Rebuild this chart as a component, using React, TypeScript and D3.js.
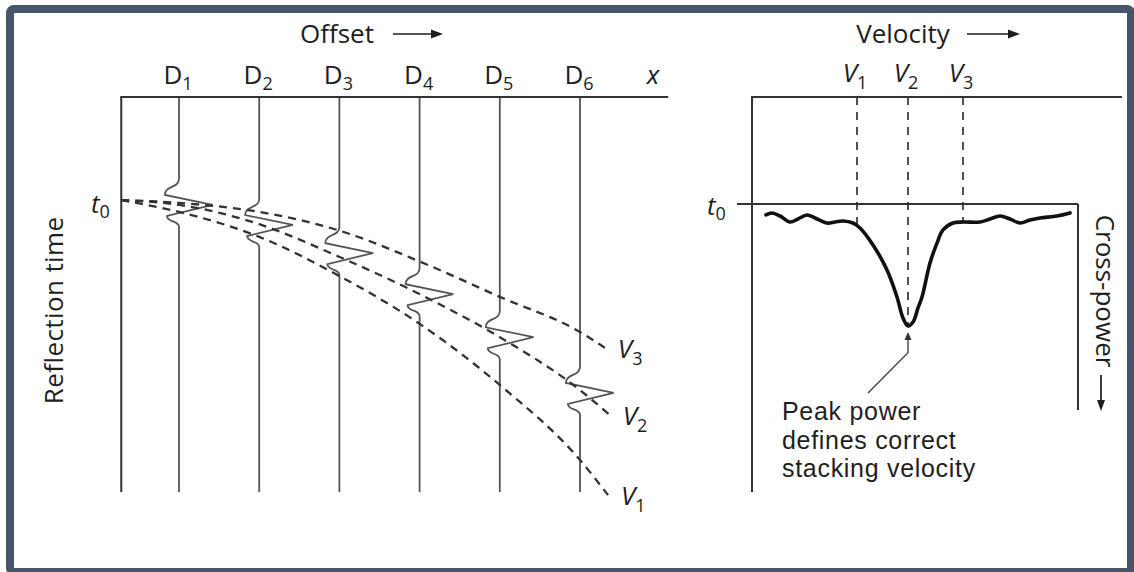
import React from "react";
import * as d3 from "d3";

// ---------- Left panel data (offset units, time in ms) ----------
const traceNames = ["1", "2", "3", "4", "5", "6"];
const traceOffsets = [1, 2, 3, 4, 5, 6];
const arrivalTimes = [273, 324, 395, 499, 608, 749];
const waveletDt = [-66, -25, 0, 28, 56];
const waveletDx = [0, -0.175, 0.42, -0.15, 0];
const t0Time = 261;

const v3Offsets = [0.28, 1, 2, 2.98, 4.02, 5, 6, 6.31];
const v3Times = [261, 268, 291, 337, 418, 506, 595, 635];
const v2Offsets = [0.28, 1, 2, 2.98, 4.02, 5, 6, 6.37];
const v2Times = [261, 273, 322, 403, 501, 608, 742, 805];
const v1Offsets = [0.28, 1, 2, 2.98, 4.02, 5, 6, 6.35];
const v1Times = [261, 291, 354, 451, 577, 729, 919, 1008];
const hyperbolaLabels = ["3", "2", "1"];

// ---------- Right panel data (velocity m/s, cross-power units) ----------
const velocityMarks = [2020, 2224, 2444];
const velocityNames = ["1", "2", "3"];
const cpVelocity = [1656, 1680, 1712, 1752, 1784, 1820, 1852, 1900, 1932, 1964, 2004, 2032, 2084, 2140, 2180, 2204, 2224, 2244, 2264, 2280, 2312, 2340, 2364, 2404, 2444, 2512, 2552, 2592, 2632, 2672, 2712, 2752, 2820, 2872];
const cpPower = [8.7, 7.1, 9.5, 14.3, 11.9, 8.7, 11.1, 15.1, 14.3, 13.5, 15.1, 19, 32.5, 52.4, 73.8, 90.5, 96.8, 93.7, 82.5, 73.8, 46.8, 31, 20.6, 15.1, 14.3, 14.3, 11.9, 9.5, 11.9, 15.1, 12.7, 11.1, 9.5, 7.1];
const annotationLines = ["Peak power", "defines correct", "stacking velocity"];

const FONT = "'Open Sans', 'Noto Sans', sans-serif";
const NOTE_FONT = "'Liberation Sans', Arial, sans-serif";
const TXT = "#1e1e1e";
const FS = 26;
const SUB = 18;

export default function App() {
  const xs = d3.scaleLinear().domain([0, 7]).range([98.8, 660.2]);
  const ts = d3.scaleLinear().domain([0, 1000]).range([97, 492]);
  const vs = d3.scaleLinear().domain([1600, 3080]).range([752, 1122]);
  const ps = d3.scaleLinear().domain([0, 100]).range([204, 330]);

  const axL = xs(0.28), axR = xs(7.1);
  const yTop = ts(0), yBot = ts(1000);

  const curveLine = d3
    .line<[number, number]>()
    .x((d) => xs(d[0]))
    .y((d) => ts(d[1]))
    .curve(d3.curveMonotoneX);

  const hyper = [
    { o: v3Offsets, t: v3Times },
    { o: v2Offsets, t: v2Times },
    { o: v1Offsets, t: v1Times },
  ];

  const tracePath = (i: number) => {
    const off = traceOffsets[i];
    const t = arrivalTimes[i];
    const x0 = xs(off);
    const pts = waveletDt.map((dt, k) => [xs(off + waveletDx[k]), ts(t + dt)]);
    const [p0, p1, p2, p3, p4] = pts;
    const a = (p1[1] - p0[1]) * 0.6;
    const b = (p4[1] - p3[1]) * 0.6;
    return (
      `M${x0},${yTop} L${p0[0]},${p0[1]} ` +
      `C${x0},${p0[1] + a} ${p1[0]},${p1[1] - a} ${p1[0]},${p1[1]} ` +
      `L${p2[0]},${p2[1]} L${p3[0]},${p3[1]} ` +
      `C${p3[0]},${p3[1] + b} ${x0},${p4[1] - b} ${x0},${p4[1]} L${x0},${yBot}`
    );
  };

  const cpData: [number, number][] = cpVelocity.map((v, i) => [v, cpPower[i]]);
  const cpLine = d3
    .line<[number, number]>()
    .x((d) => vs(d[0]))
    .y((d) => ps(d[1]))
    .curve(d3.curveCatmullRom.alpha(0.5));
  const powerAt = (v: number) => {
    const i = d3.bisector((d: number) => d).left(cpVelocity, v);
    if (i <= 0) return cpPower[0];
    if (i >= cpVelocity.length) return cpPower[cpPower.length - 1];
    const f = (v - cpVelocity[i - 1]) / (cpVelocity[i] - cpVelocity[i - 1]);
    return cpPower[i - 1] + f * (cpPower[i] - cpPower[i - 1]);
  };

  const vAxis = vs(1600);
  const boxR = vs(2904);
  const yT0r = ps(0);
  const boxB = ps(163.5);

  const arrowH = (x1: number, x2: number, y: number) => (
    <g>
      <line x1={x1} y1={y} x2={x2 - 8} y2={y} stroke={TXT} strokeWidth={1.7} />
      <polygon points={`${x2},${y} ${x2 - 12},${y - 4.5} ${x2 - 12},${y + 4.5}`} fill={TXT} />
    </g>
  );

  const peakV = 2224;
  const peakP = powerAt(peakV);

  return (
    <svg
      width={1134}
      height={572}
      style={{ position: "absolute", left: 0, top: 0, background: "#fff" }}
      fontFamily={FONT}
    >
      <rect x={10} y={9} width={1121} height={563} rx={4} fill="#fff" stroke="#46556b" strokeWidth={8} />

      {/* ---------- LEFT PANEL ---------- */}
      <text x={337} y={43} fontSize={FS} fill={TXT} textAnchor="middle">Offset</text>
      {arrowH(393, 443, 34)}

      {traceNames.map((n, i) => (
        <text key={n} x={xs(traceOffsets[i]) - 1} y={84} fontSize={FS} fill={TXT} textAnchor="middle">
          D<tspan fontSize={SUB} dy={6}>{n}</tspan>
        </text>
      ))}
      <text x={xs(6.91)} y={84} fontSize={FS} fill={TXT} fontStyle="italic" textAnchor="middle">x</text>

      <text transform={`translate(63,${ts(540)}) rotate(-90)`} fontSize={FS} fill={TXT} textAnchor="middle" letterSpacing={0.4}>
        Reflection time
      </text>
      <text x={91} y={213} fontSize={FS} fill={TXT} fontStyle="italic">
        t<tspan fontSize={SUB} fontStyle="normal" dy={5}>0</tspan>
      </text>

      {/* traces */}
      {traceNames.map((n, i) => (
        <path key={"tr" + n} d={tracePath(i)} fill="none" stroke="#555" strokeWidth={1.8} />
      ))}

      {/* hyperbolas */}
      {hyper.map((h, i) => (
        <path
          key={"hy" + i}
          d={curveLine(h.o.map((o, k) => [o, h.t[k]] as [number, number])) || ""}
          fill="none"
          stroke="#333"
          strokeWidth={2.3}
          strokeDasharray="8,6"
        />
      ))}
      {hyper.map((h, i) => {
        const lo = h.o[h.o.length - 1];
        const lt = h.t[h.t.length - 1];
        return (
          <text key={"hl" + i} x={xs(lo) + 13} y={ts(lt) + 10} fontSize={FS} fill={TXT} fontStyle="italic">
            V<tspan fontSize={SUB} fontStyle="normal" dy={7}>{hyperbolaLabels[i]}</tspan>
          </text>
        );
      })}

      {/* axes */}
      <line x1={axL} y1={yTop} x2={axL} y2={yBot} stroke="#333" strokeWidth={2} />
      <line x1={axL - 1} y1={yTop} x2={axR} y2={yTop} stroke="#333" strokeWidth={2.2} />

      {/* ---------- RIGHT PANEL ---------- */}
      <text x={903} y={43} fontSize={FS} fill={TXT} textAnchor="middle">Velocity</text>
      {arrowH(967, 1020, 34)}

      {velocityMarks.map((v, i) => (
        <g key={"vm" + i}>
          <line
            x1={vs(v)}
            y1={yTop}
            x2={vs(v)}
            y2={ps(powerAt(v))}
            stroke="#333"
            strokeWidth={1.7}
            strokeDasharray="8,7"
          />
          <text x={vs(v) - 2} y={82} fontSize={FS} fill={TXT} fontStyle="italic" textAnchor="middle">
            V<tspan fontSize={SUB} fontStyle="normal" dy={7}>{velocityNames[i]}</tspan>
          </text>
        </g>
      ))}

      <line x1={vAxis} y1={yTop} x2={vAxis} y2={yBot} stroke="#333" strokeWidth={2} />
      <line x1={vAxis - 1} y1={yTop} x2={vs(3080)} y2={yTop} stroke="#333" strokeWidth={2.2} />
      <line x1={vAxis - 15} y1={yT0r} x2={boxR} y2={yT0r} stroke="#333" strokeWidth={2} />
      <line x1={boxR} y1={yT0r} x2={boxR} y2={boxB} stroke="#333" strokeWidth={2} />

      <text x={707} y={215} fontSize={FS} fill={TXT} fontStyle="italic">
        t<tspan fontSize={SUB} fontStyle="normal" dy={5}>0</tspan>
      </text>

      <path d={cpLine(cpData) || ""} fill="none" stroke="#111" strokeWidth={3.6} strokeLinejoin="round" strokeLinecap="round" />

      {/* annotation arrow */}
      <polyline
        points={`${vs(2064)},${ps(150)} ${vs(peakV)},${ps(118)} ${vs(peakV)},${ps(108)}`}
        fill="none"
        stroke="#444"
        strokeWidth={1.4}
      />
      <polygon
        points={`${vs(peakV)},${ps(peakP) + 6} ${vs(peakV) - 3.5},${ps(108)} ${vs(peakV) + 3.5},${ps(108)}`}
        fill="#333"
      />
      {annotationLines.map((s, i) => (
        <text key={s} x={vs(1720)} y={420 + i * 28.5} fontSize={25} fill={TXT} fontFamily={NOTE_FONT} letterSpacing={0.7}>
          {s}
        </text>
      ))}

      <text transform={`translate(1096,291) rotate(90)`} fontSize={FS} fill={TXT} textAnchor="middle">
        Cross-power
      </text>
      <line x1={1101} y1={375} x2={1101} y2={403} stroke={TXT} strokeWidth={1.7} />
      <polygon points={`1101,411 1097,400 1105,400`} fill={TXT} />
    </svg>
  );
}
